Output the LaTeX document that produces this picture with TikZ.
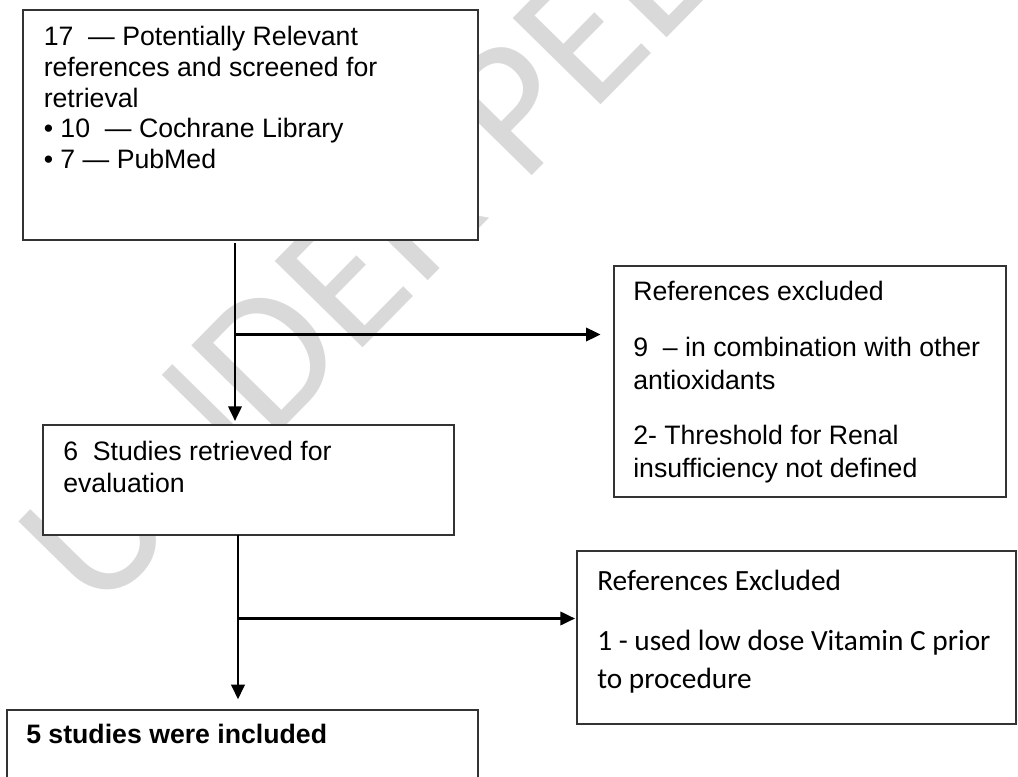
\documentclass[tikz,border=0pt]{standalone}
\usepackage{fontspec}
\setmainfont{Liberation Sans}
\newfontfamily\calfont{Carlito}
\usetikzlibrary{arrows.meta}
\begin{document}
\begin{tikzpicture}[x=0.75pt,y=-0.75pt,
  box/.style={draw=black!80,line width=1pt,fill=white,anchor=north west,inner sep=0pt,outer sep=0pt},
  txt/.style={anchor=base west,inner sep=0pt,font=\fontsize{20}{23}\selectfont},
  btxt/.style={txt,font=\fontsize{20}{23}\selectfont\bfseries},
  ctxt/.style={anchor=base west,inner sep=0pt,font=\calfont\fontsize{22}{26}\selectfont},
  flow/.style={line width=2pt,-{Triangle[length=11pt,width=10pt]}},
  wm/.style={anchor=base west,inner sep=0pt,text=black!15,font=\calfont\fontsize{144}{144}\selectfont}]
\clip (0,0) rectangle (1018,777);
\fill[white] (0,0) rectangle (1018,777);
% watermark
\node[wm,rotate=45.5] (wm) at (97,618) {UNDER PEER REVIEW};
% boxes
\node[box,minimum width=341.25pt,minimum height=172.5pt] (b1) at (23,10) {};
\node[box,minimum width=308.25pt,minimum height=82.5pt] (b2) at (43,425) {};
\node[box,minimum width=353.25pt,minimum height=90pt] (b3) at (7,710) {};
\node[box,minimum width=294pt,minimum height=173.25pt] (e1) at (614,266) {};
\node[box,minimum width=329.25pt,minimum height=129.75pt] (e2) at (577,551) {};
% texts
\node[txt] (t1a) at (43.5,46) {17~~— Potentially Relevant};
\node[txt] (t1b) at (43.5,76.6) {references and screened for};
\node[txt] (t1c) at (43.5,107.2) {retrieval};
\node[txt] (t1d) at (43.5,137.8) {• 10~~— Cochrane Library};
\node[txt] (t1e) at (43.5,168.4) {• 7 — PubMed};
\node[txt] (t2a) at (63,460) {6~~Studies retrieved for};
\node[txt] (t2b) at (63,492) {evaluation};
\node[btxt] (t3a) at (26,743) {5 studies were included};
\node[txt] (te1a) at (633,301) {References excluded};
\node[txt] (te1b) at (633,357) {9~~– in combination with other};
\node[txt] (te1c) at (633,389) {antioxidants};
\node[txt] (te1d) at (633,445) {2- Threshold for Renal};
\node[txt] (te1e) at (633,477) {insufficiency not defined};
\node[ctxt] (te2a) at (597,590) {References Excluded};
\node[ctxt] (te2b) at (597,650) {1 - used low dose Vitamin C prior};
\node[ctxt] (te2c) at (597,688) {to procedure};
% connectors
\coordinate (s1) at (235,243);
\coordinate (j1) at (235,334.5);
\coordinate (s2) at (238,535);
\coordinate (j2) at (238,618.5);
\draw[flow,shorten >=3pt] (s1) -- (s1 |- b2.north);
\draw[flow,shorten >=10pt] (j1) -- (j1 -| e1.west);
\draw[flow,shorten >=8pt] (s2) -- (s2 |- b3.north);
\draw[flow,shorten >=1.5pt] (j2) -- (j2 -| e2.west);
\end{tikzpicture}
\end{document}
